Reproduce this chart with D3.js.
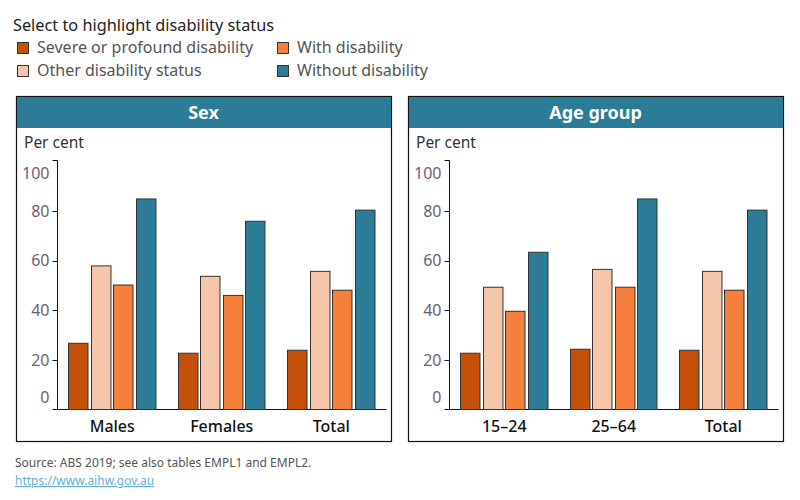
<!DOCTYPE html>
<html>
<head>
<meta charset="utf-8">
<script src="https://cdn.jsdelivr.net/npm/d3@7"></script>
<style>
  body { margin: 0; background: #fff; font-family: "Noto Sans", "Open Sans", sans-serif; }
</style>
</head>
<body>
<div id="chart-area"></div>
<script>
// series and categories
var statuses = ["Severe or profound disability", "Other disability status", "With disability", "Without disability"];
var statusColors = ["#c4500a", "#f6c6aa", "#f4803b", "#2c7c98"];

var sexCats = ["Males", "Females", "Total"];
var sexSevere  = [26.7, 22.7, 23.9];
var sexOther   = [57.9, 53.7, 55.7];
var sexWith    = [50.2, 46.0, 48.1];
var sexWithout = [84.9, 75.9, 80.4];

var ageCats = ["15\u201324", "25\u201364", "Total"];
var ageSevere  = [22.7, 24.3, 23.9];
var ageOther   = [49.3, 56.5, 55.7];
var ageWith    = [39.6, 49.3, 48.1];
var ageWithout = [63.4, 84.9, 80.4];

var yTicks = [0, 20, 40, 60, 80, 100];

var svgWidth = 800, svgHeight = 500;

var svg = d3.select("#chart-area").append("svg")
  .attr("width", svgWidth)
  .attr("height", svgHeight)
  .style("display", "block");

//legend
svg.append("text")
  .attr("x", 13).attr("y", 31)
  .attr("font-size", 16.3).attr("fill", "#222")
  .text("Select to highlight disability status");

var legendPos = [[17, 42], [17, 65], [277, 42], [277, 65]];
var legendOrder = [0, 1, 2, 3];
legendOrder.forEach(function(i) {
  var p = legendPos[i];
  svg.append("rect")
    .attr("x", p[0] + 0.5).attr("y", p[1] + 0.5)
    .attr("width", 11).attr("height", 11)
    .attr("fill", statusColors[i])
    .attr("stroke", "#333");
  svg.append("text")
    .attr("x", p[0] + 20).attr("y", p[1] + 11)
    .attr("font-size", 16).attr("fill", "#555")
    .text(statuses[i]);
});

function panel(x0, title, cats, series)
{
  var w = 375, top = 96, bottom = 441;
  var g = svg.append("g");

  g.append("rect")
    .attr("x", x0 + 0.5).attr("y", top + 0.5)
    .attr("width", w).attr("height", bottom - top)
    .attr("fill", "#fff").attr("stroke", "#111").attr("stroke-width", 1.2);

  g.append("rect")
    .attr("x", x0 + 1).attr("y", top + 1)
    .attr("width", w - 1).attr("height", 31)
    .attr("fill", "#2a7c97");

  g.append("text")
    .attr("x", x0 + w / 2).attr("y", top + 23)
    .attr("text-anchor", "middle")
    .attr("font-size", 18).attr("font-weight", "bold").attr("fill", "#fff")
    .text(title);

  g.append("text")
    .attr("x", x0 + 8).attr("y", top + 52)
    .attr("font-size", 15.5).attr("fill", "#333")
    .text("Per cent");

  var axisX = x0 + 41.5;
  var y = d3.scaleLinear().domain([0, 100]).range([409.5, 161.5]);
  var x = d3.scaleBand().domain(cats).range([axisX, axisX + 328.5]).padding(0);
  var xs = d3.scaleBand().domain(d3.range(4)).range([0, 88]).paddingInner(0.09).paddingOuter(0);

  // y axis
  g.append("line")
    .attr("x1", axisX).attr("x2", axisX)
    .attr("y1", 160.5).attr("y2", 409.5)
    .attr("stroke", "#111");
  g.append("line")
    .attr("x1", axisX - 5).attr("x2", axisX)
    .attr("y1", 160.5).attr("y2", 160.5)
    .attr("stroke", "#111");

  yTicks.forEach(function(t) {
    if (t > 0 && t < 100) {
      g.append("line")
        .attr("x1", axisX - 5).attr("x2", axisX)
        .attr("y1", Math.round(y(t)) + 0.5).attr("y2", Math.round(y(t)) + 0.5)
        .attr("stroke", "#111");
    }
    // end labels sit inside the axis range
    var ly = y(t);
    if (t == 0) ly = ly - 12;
    if (t == 100) ly = ly + 12;
    g.append("text")
      .attr("x", axisX - 8).attr("y", ly)
      .attr("dy", "0.35em")
      .attr("text-anchor", "end")
      .attr("font-size", 16).attr("fill", "#6b6378")
      .text(t);
  });

  // x axis
  g.append("line")
    .attr("x1", axisX - 5).attr("x2", axisX + 329)
    .attr("y1", 409.5).attr("y2", 409.5)
    .attr("stroke", "#111");

  g.selectAll(".cat")
    .data(cats)
    .enter()
    .append("text")
    .attr("x", d => x(d) + x.bandwidth() / 2)
    .attr("y", 432)
    .attr("text-anchor", "middle")
    .attr("font-size", 16).attr("font-weight", 500).attr("fill", "#111")
    .text(d => d);

  var bars = [];
  series.forEach(function(vals, si) {
    vals.forEach(function(v, ci) {
      bars.push({ cat: cats[ci], s: si, value: v });
    });
  });

  g.selectAll(".bar")
    .data(bars)
    .enter()
    .append("rect")
    .attr("x", d => Math.round(x(d.cat) + x.bandwidth() / 2 - 44 + xs(d.s)) + 0.5)
    .attr("y", d => y(d.value))
    .attr("width", xs.bandwidth() - 1)
    .attr("height", d => y(0) - y(d.value))
    .attr("fill", d => statusColors[d.s])
    .attr("stroke", "#333")
    .attr("stroke-width", 1);
}

panel(16, "Sex", sexCats, [sexSevere, sexOther, sexWith, sexWithout]);
panel(408, "Age group", ageCats, [ageSevere, ageOther, ageWith, ageWithout]);

// source
svg.append("text")
  .attr("x", 15).attr("y", 467)
  .attr("font-size", 12).attr("fill", "#555")
  .text("Source: ABS 2019; see also tables EMPL1 and EMPL2.");

svg.append("text")
  .attr("x", 15).attr("y", 485)
  .attr("font-size", 12).attr("fill", "#62b3d6")
  .attr("text-decoration", "underline")
  .text("https://www.aihw.gov.au");
</script>
</body>
</html>
